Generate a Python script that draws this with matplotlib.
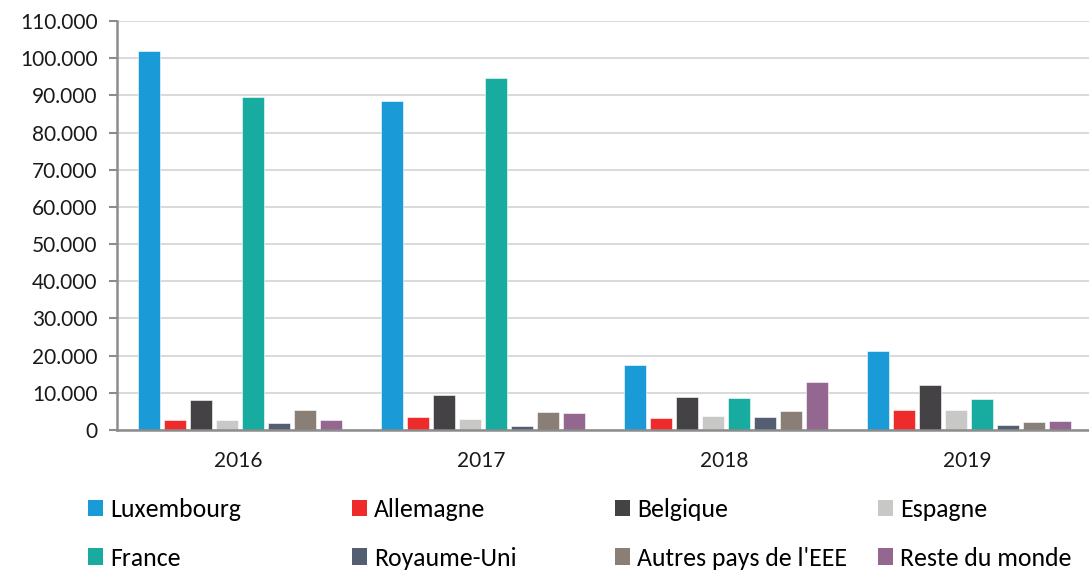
import matplotlib
matplotlib.use("Agg")
import matplotlib.pyplot as plt
import numpy as np
from matplotlib.patches import Patch

years = ["2016", "2017", "2018", "2019"]
countries = ["Luxembourg", "Allemagne", "Belgique", "Espagne",
             "France", "Royaume-Uni", "Autres pays de l'EEE", "Reste du monde"]

luxembourg = [101800, 88600, 17400, 21200]
allemagne = [2800, 3400, 3300, 5400]
belgique = [8200, 9400, 8800, 12200]
espagne = [2700, 2900, 3800, 5400]
france = [89500, 94600, 8700, 8400]
royaume_uni = [1900, 1100, 3500, 1400]
autres_eee = [5400, 4800, 5200, 2200]
reste_monde = [2700, 4600, 12900, 2500]

series = [luxembourg, allemagne, belgique, espagne,
          france, royaume_uni, autres_eee, reste_monde]
colors = ["#1a9ad6", "#ee2a2a", "#444244", "#c8c8c6",
          "#18ab9f", "#545e72", "#8a7f76", "#93678f"]

yticks = np.arange(0, 110001, 10000)
ytick_labels = ["0"] + [f"{v // 1000}.000" for v in yticks[1:]]

tick_font = ["Lato", "DejaVu Sans"]
legend_font = ["Carlito", "DejaVu Sans"]

fig = plt.figure(figsize=(10.89, 5.72), dpi=100)
ax = fig.add_axes([117 / 1089, 1 - 430 / 572, 1 - 117 / 1089, 409 / 572])

x = np.arange(len(years))
step = 0.107
width = 0.087
for i, (vals, c) in enumerate(zip(series, colors)):
    ax.bar(x + (i - 3.5) * step + 0.006, vals, width=width, color=c,
           edgecolor="white", linewidth=0.4, zorder=3)

ax.set_xlim(-0.5, 3.5)
ax.set_ylim(0, 110000)
ax.set_yticks(yticks)
ax.set_yticklabels(ytick_labels)
ax.set_xticks(x)
ax.set_xticklabels(years)

ax.grid(axis="y", color="#d9d9d9", linewidth=1.4, zorder=0)
for s in ["top", "right"]:
    ax.spines[s].set_visible(False)
for s in ["left", "bottom"]:
    ax.spines[s].set_color("#8c8c8c")
    ax.spines[s].set_linewidth(1.8)
ax.spines["bottom"].set_zorder(4)

ax.tick_params(axis="y", length=6, width=1.5, color="#8c8c8c", pad=8,
               labelsize=15, labelcolor="#1a1a1a")
ax.tick_params(axis="x", length=0, pad=15, labelsize=15, labelcolor="#1a1a1a")
for lab in ax.get_xticklabels() + ax.get_yticklabels():
    lab.set_family(tick_font)

# legend: four columns of two entries each
col_x = [88, 352, 615, 878]
for j in range(4):
    idx = [j, j + 4]
    handles = [Patch(facecolor=colors[k], edgecolor="none") for k in idx]
    fig.legend(handles, [countries[k] for k in idx], loc="upper left",
               bbox_to_anchor=(col_x[j] / 1089, 1 - 498 / 572),
               frameon=False, handlelength=0.6, handleheight=0.6,
               handletextpad=0.25, labelspacing=1.0, borderaxespad=0,
               borderpad=0, prop={"family": legend_font, "size": 18.5})

fig.savefig("out.png", dpi=100)
